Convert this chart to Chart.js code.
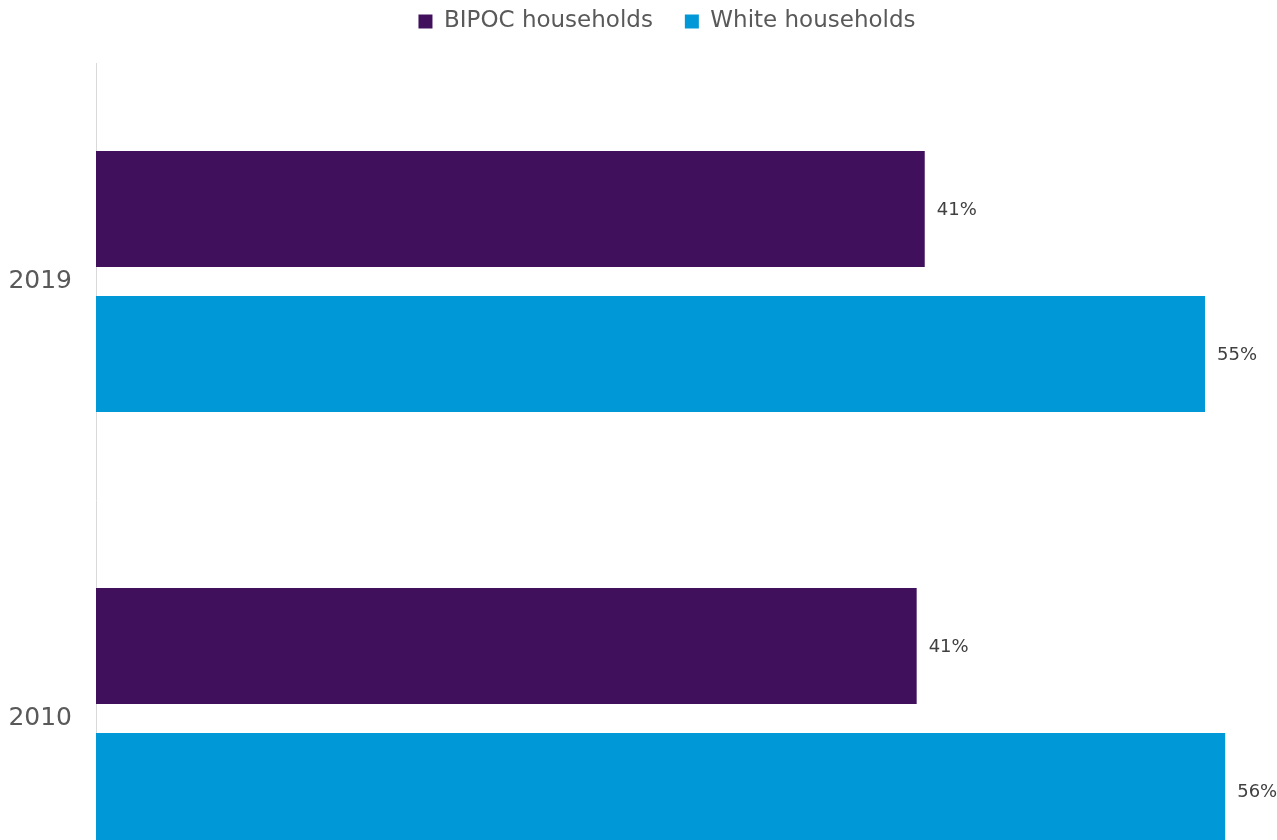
<!DOCTYPE html>
<html>
<head>
<meta charset="utf-8">
<script src="https://cdn.jsdelivr.net/npm/chart.js@4/dist/chart.umd.min.js"></script>
<style>
  html, body { margin: 0; padding: 0; background: #ffffff; overflow: hidden; }
  #chart { display: block; }
</style>
</head>
<body>
<canvas id="chart" width="1326" height="976"></canvas>
<script>
// Share of households, by year
const years = ['2019', '2010'];
const seriesNames = ['BIPOC households', 'White households'];
const bipocShare = [41.1, 40.7];
const whiteShare = [55.0, 56.0];
const seriesColors = ['#40105C', '#0098D7'];

// Writes each bar's value just past its end
const valueLabels = {
  id: 'valueLabels',
  afterDatasetsDraw(chart) {
    const ctx = chart.ctx;
    ctx.save();
    ctx.font = '18px "DejaVu Sans"';
    ctx.fillStyle = '#404040';
    ctx.textAlign = 'left';
    ctx.textBaseline = 'middle';
    chart.data.datasets.forEach((ds, i) => {
      chart.getDatasetMeta(i).data.forEach((bar, j) => {
        ctx.fillText(Math.round(ds.data[j]) + '%', bar.x + 12, bar.y + 1);
      });
    });
    ctx.restore();
  }
};

// Extra room between the legend row and the plot
const legendGap = {
  id: 'legendGap',
  beforeInit(chart) {
    const fit = chart.legend.fit;
    chart.legend.fit = function () {
      fit.bind(chart.legend)();
      this.height += 20;
    };
  }
};

new Chart(document.getElementById('chart'), {
  type: 'bar',
  data: {
    labels: years,
    datasets: [
      { label: seriesNames[0], data: bipocShare, backgroundColor: seriesColors[0] },
      { label: seriesNames[1], data: whiteShare, backgroundColor: seriesColors[1] }
    ]
  },
  options: {
    indexAxis: 'y',
    responsive: false,
    animation: false,
    categoryPercentage: 0.664,
    barPercentage: 0.8,
    layout: { padding: { left: 8, right: 0, top: -22, bottom: 0 } },
    scales: {
      x: {
        display: false,
        min: 0,
        max: 61
      },
      y: {
        grid: { display: false, drawTicks: false },
        border: { display: true, color: '#d9d9d9', width: 1 },
        ticks: {
          padding: 24,
          color: '#595959',
          font: { family: 'DejaVu Sans', size: 25 }
        },
        afterFit(scale) { scale.width = 88; }
      }
    },
    plugins: {
      legend: {
        position: 'top',
        labels: {
          boxWidth: 14,
          boxHeight: 14,
          padding: 32,
          color: '#595959',
          font: { family: 'DejaVu Sans', size: 23 }
        }
      },
      tooltip: { enabled: false }
    }
  },
  plugins: [valueLabels, legendGap]
});
</script>
</body>
</html>
